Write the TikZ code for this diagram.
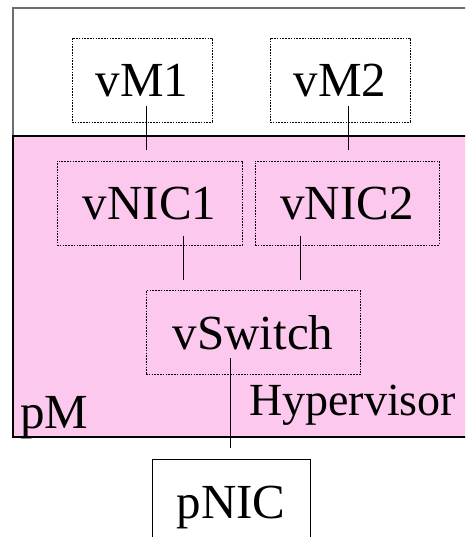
\documentclass[tikz,border=0pt]{standalone}
\usepackage{fontspec}
\setmainfont{Liberation Serif}
\usetikzlibrary{calc}
\definecolor{hyperpink}{RGB}{252,200,238}
\definecolor{framegray}{RGB}{110,110,110}

\begin{document}
\begin{tikzpicture}[x=1pt, y=-1pt,
  font=\fontsize{49}{58}\selectfont,
  vbox/.style={draw, rectangle, dash pattern=on 1.6pt off 1.2pt, line width=0.7pt,
    minimum width=#1, minimum height=84pt, inner sep=0pt, text depth=0pt},
  pbox/.style={draw, rectangle, line width=0.8pt,
    minimum width=#1, minimum height=86pt, inner sep=0pt, text depth=0pt},
  link/.style={line width=0.8pt}]

            \useasboundingbox (0,0) rectangle (465,537);
            \clip (0,0) rectangle (465,537);

            % Physical machine and hypervisor
            \draw[framegray, line width=1.2pt] (13,437) -- (13,8) -- (480,8);
            \draw[fill=hyperpink, line width=2.4pt] (13,136) rectangle (480,437);

            % Virtual machines
            \node[vbox=140pt] (vm1) at (142,80) {vM1};
            \node[vbox=140pt] (vm2) at (340,80) {vM2};

            % Virtual NICs
            \node[vbox=185pt] (vnic1) at (149.5,203) {vNIC1};
            \node[vbox=184pt] (vnic2) at (347,203) {vNIC2};

            % Virtual switch
            \node[vbox=214pt] (vswitch) at (253,332.5) {vSwitch};

            % Physical NIC
            \node[pbox=158pt] (pnic) at (231,502) {pNIC};

            % Labels
            \node[anchor=base west, inner sep=0pt, font=\fontsize{46}{55}\selectfont] (hyper) at (249,415) {Hypervisor};
            \node[anchor=base west, inner sep=0pt] (pm) at (20,428) {pM};

            % Links
            \coordinate (vm1top) at ($(vm1.south)+(4,-16)$);
            \coordinate (vm1end) at ($(vm1.south)+(4,28)$);
            \draw[link] (vm1top) -- (vm1end);
            \coordinate (vm2top) at ($(vm2.south)+(8,-16)$);
            \coordinate (vm2end) at ($(vm2.south)+(8,28)$);
            \draw[link] (vm2top) -- (vm2end);

            \coordinate (nic1top) at ($(vnic1.south)+(33.5,-9)$);
            \coordinate (nic1end) at ($(vnic1.south)+(33.5,35)$);
            \draw[link] (nic1top) -- (nic1end);
            \coordinate (nic2top) at ($(vnic2.south)+(-47,-9)$);
            \coordinate (nic2end) at ($(vnic2.south)+(-47,35)$);
            \draw[link] (nic2top) -- (nic2end);

            \coordinate (swtop) at ($(vswitch.south)+(-23,-17)$);
            \coordinate (swend) at ($(vswitch.south)+(-23,73)$);
            \draw[link] (swtop) -- (swend);
\end{tikzpicture}
\end{document}
